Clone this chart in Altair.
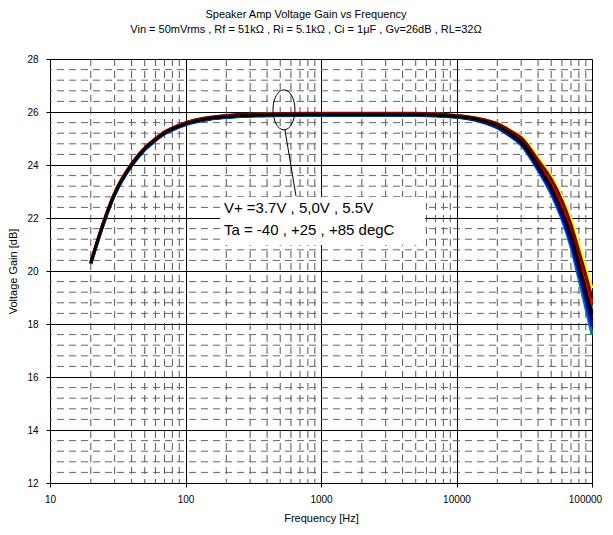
import altair as alt
import pandas as pd

# ---------------- data ----------------
freq = [20, 25, 30, 40, 50, 60, 70, 80, 100, 150, 200, 300, 500, 1000, 2000,
        5000, 10000, 15000, 20000, 25000, 30000, 40000, 50000, 60000, 70000,
        80000, 90000, 100000]

g_teal = [20.26, 21.82, 22.87, 23.97, 24.57, 24.92, 25.17, 25.32, 25.52, 25.72, 25.79, 25.84, 25.86, 25.87, 25.87,
          25.87, 25.80, 25.64, 25.40, 25.08, 24.75, 23.80, 22.90, 21.95, 20.90, 19.70, 18.60, 17.60]
g_blue = [20.27, 21.83, 22.88, 23.98, 24.58, 24.93, 25.18, 25.33, 25.53, 25.73, 25.80, 25.85, 25.87, 25.88, 25.88,
          25.88, 25.81, 25.65, 25.42, 25.10, 24.80, 23.85, 23.00, 22.05, 21.05, 19.95, 18.90, 17.90]
g_navy = [20.28, 21.84, 22.89, 23.99, 24.59, 24.94, 25.19, 25.34, 25.54, 25.74, 25.81, 25.86, 25.88, 25.89, 25.89,
          25.89, 25.82, 25.67, 25.45, 25.14, 24.82, 23.92, 23.08, 22.18, 21.22, 20.12, 19.08, 18.15]
g_cyan = [20.29, 21.85, 22.90, 24.00, 24.60, 24.95, 25.20, 25.35, 25.55, 25.75, 25.82, 25.87, 25.89, 25.90, 25.90,
          25.90, 25.83, 25.69, 25.48, 25.18, 24.92, 24.08, 23.28, 22.42, 21.55, 20.45, 19.45, 18.55]
g_purple = [20.30, 21.86, 22.91, 24.01, 24.61, 24.96, 25.21, 25.36, 25.56, 25.76, 25.83, 25.88, 25.90, 25.91, 25.91,
            25.91, 25.84, 25.70, 25.50, 25.20, 24.93, 24.03, 23.22, 22.33, 21.45, 20.38, 19.38, 18.48]
g_yellow = [20.33, 21.89, 22.94, 24.04, 24.64, 24.99, 25.24, 25.39, 25.59, 25.79, 25.86, 25.91, 25.93, 25.94, 25.94,
            25.94, 25.88, 25.76, 25.57, 25.31, 25.08, 24.28, 23.58, 22.78, 21.95, 21.00, 20.10, 19.35]
g_red = [20.32, 21.88, 22.93, 24.03, 24.63, 24.98, 25.23, 25.38, 25.58, 25.78, 25.85, 25.90, 25.92, 25.93, 25.93,
         25.93, 25.86, 25.73, 25.54, 25.26, 24.98, 24.13, 23.38, 22.52, 21.65, 20.60, 19.65, 18.78]
g_maroon = [20.34, 21.90, 22.95, 24.05, 24.65, 25.00, 25.25, 25.40, 25.60, 25.80, 25.87, 25.92, 25.94, 25.95, 25.95,
            25.95, 25.87, 25.74, 25.56, 25.29, 25.03, 24.18, 23.47, 22.66, 21.76, 20.75, 19.85, 18.98]
g_black = [20.30, 21.85, 22.90, 24.00, 24.60, 24.95, 25.20, 25.35, 25.55, 25.75, 25.82, 25.87, 25.89, 25.90, 25.90,
           25.90, 25.83, 25.69, 25.48, 25.18, 24.88, 23.98, 23.16, 22.26, 21.36, 20.26, 19.26, 18.38]

series_names = ["teal", "blue", "navy", "cyan", "purple", "yellow", "red", "maroon", "black"]
series_gains = [g_teal, g_blue, g_navy, g_cyan, g_purple, g_yellow, g_red, g_maroon, g_black]
series_colors = ["#008080", "#0000FF", "#000080", "#00FFFF", "#800080", "#FFFF00", "#FF0000", "#800000", "#000000"]

x_major = [10, 100, 1000, 10000, 100000]
y_major = [12, 14, 16, 18, 20, 22, 24, 26, 28]

note_lines = ["V+ =3.7V , 5,0V , 5.5V", "Ta = -40 , +25 , +85 degC"]

# ---------------- tables ----------------
rows = []
for i, (name, gains) in enumerate(zip(series_names, series_gains)):
    for f, g in zip(freq, gains):
        rows.append({"series": name, "order": i, "f": f, "g": g})
df = pd.DataFrame(rows)

minor_x = [m * d for d in [10, 100, 1000, 10000] for m in range(2, 10)]
minor_y = [round(12 + 0.4 * k, 1) for k in range(1, 40) if k % 5 != 0]

FONT = "Liberation Sans"
xscale = alt.Scale(type="log", domain=[10, 100000], nice=False)
yscale = alt.Scale(domain=[12, 28], nice=False, zero=False)

base = alt.Chart(df)

minor_v = alt.Chart(pd.DataFrame({"f": minor_x})).mark_rule(
    color="#555555", strokeWidth=1, strokeDash=[7, 5]
).encode(x=alt.X("f:Q", scale=xscale))

minor_h = alt.Chart(pd.DataFrame({"g": minor_y})).mark_rule(
    color="#666666", strokeWidth=1, strokeDash=[7, 5]
).encode(y=alt.Y("g:Q", scale=yscale))

lines = base.mark_line(strokeWidth=3, interpolate="monotone").encode(
    x=alt.X("f:Q", scale=xscale,
            axis=alt.Axis(values=x_major, format="d", title="Frequency [Hz]",
                          grid=True, gridColor="#000000", gridWidth=1,
                          domainColor="#000000", tickColor="#000000", tickSize=4,
                          labelPadding=7, titlePadding=8, labelFlush=False,
                          labelOffset={"condition": {"test": "datum.value == 100000", "value": -7}, "value": 0},
                          titleFontWeight="normal", titleFont=FONT, titleFontSize=11)),
    y=alt.Y("g:Q", scale=yscale,
            axis=alt.Axis(values=y_major, title="Voltage Gain [dB]",
                          grid=True, gridColor="#000000", gridWidth=1,
                          domainColor="#000000", tickColor="#000000", tickSize=4,
                          labelPadding=8, titlePadding=8,
                          titleFontWeight="normal", titleFont=FONT, titleFontSize=11)),
    color=alt.Color("series:N", scale=alt.Scale(domain=series_names, range=series_colors), legend=None),
    detail="series:N",
    order="order:Q",
)

# annotation box (in data coordinates)
box_df = pd.DataFrame({"f1": [180], "f2": [5850], "g1": [20.98], "g2": [22.79]})
box = alt.Chart(box_df).mark_rect(fill="white").encode(
    x=alt.X("f1:Q", scale=xscale), x2="f2:Q",
    y=alt.Y("g1:Q", scale=yscale), y2="g2:Q")

txt_df = pd.DataFrame({"f": [192, 192], "g": [22.38, 21.55], "t": note_lines})
txt = alt.Chart(txt_df).mark_text(align="left", baseline="middle", font=FONT, fontSize=15,
                                  color="#000000").encode(
    x=alt.X("f:Q", scale=xscale), y=alt.Y("g:Q", scale=yscale), text="t:N")

ell_df = pd.DataFrame({"f": [533], "g": [26.08]})
ellipse = alt.Chart(ell_df).mark_point(
    shape="M -0.55 0 A 0.55 1 0 1 1 0.55 0 A 0.55 1 0 1 1 -0.55 0 Z",
    size=1600, filled=False, stroke="#000000", strokeWidth=1, opacity=1
).encode(x=alt.X("f:Q", scale=xscale), y=alt.Y("g:Q", scale=yscale))

lead_df = pd.DataFrame({"f1": [542], "f2": [654], "g1": [25.32], "g2": [22.83]})
lead = alt.Chart(lead_df).mark_rule(color="#000000", strokeWidth=1).encode(
    x=alt.X("f1:Q", scale=xscale), x2="f2:Q",
    y=alt.Y("g1:Q", scale=yscale), y2="g2:Q")

chart = alt.layer(minor_v, minor_h, lines, box, txt, ellipse, lead).properties(
    width=542, height=424,
    padding={"left": 42, "top": 51, "right": 13, "bottom": 44},
    autosize=alt.AutoSizeParams(type="none"),
    title=alt.TitleParams(
        text=["Speaker Amp Voltage Gain  vs Frequency",
              "Vin = 50mVrms ,  Rf = 51kΩ , Ri = 5.1kΩ , Ci = 1μF , Gv=26dB , RL=32Ω"],
        font=FONT, fontSize=11, fontWeight="normal", color="#000000",
        lineHeight=15, anchor="middle", dx=-15, offset=19),
).configure_view(stroke="#000000", strokeWidth=1).configure_axis(
    labelFont=FONT, titleFont=FONT, labelFontSize=11, titleFontSize=11,
    titleFontWeight="normal", labelColor="#000000", titleColor="#000000"
).configure(background="white")

chart.save("out.html", embed_options={"renderer": "svg", "actions": False})
